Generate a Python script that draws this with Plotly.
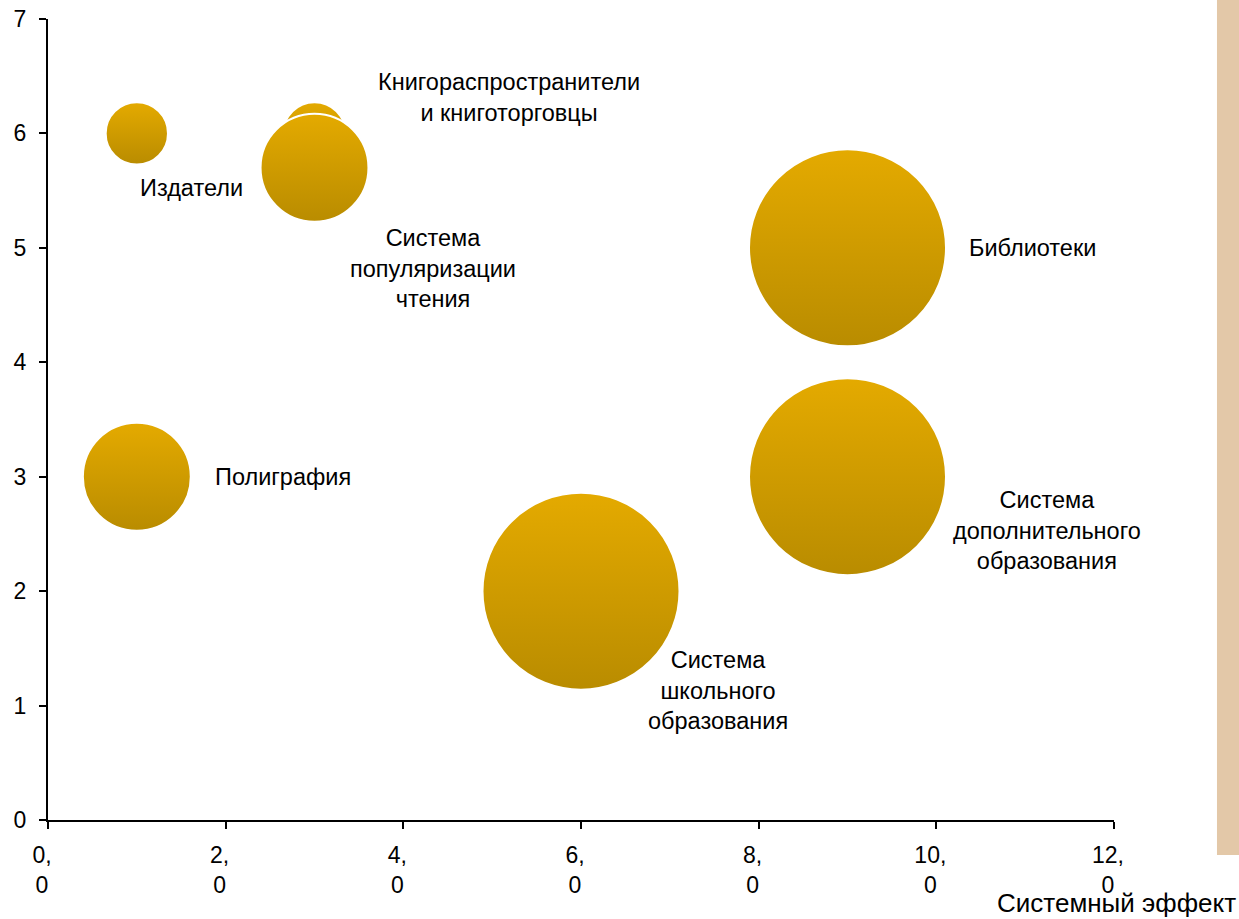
import plotly.graph_objects as go

# Bubble data: reading infrastructure segments
names = [
    "Издатели",
    "Книгораспространители<br>и книготорговцы",
    "Система<br>популяризации<br>чтения",
    "Библиотеки",
    "Полиграфия",
    "Система<br>дополнительного<br>образования",
    "Система<br>школьного<br>образования",
]
x_vals = [1, 3, 3, 9, 1, 9, 6]
y_vals = [6, 6, 5.7, 5, 3, 3, 2]
sizes = [1, 1, 3, 10, 3, 10, 10]

# label anchor positions (data coords) for each bubble caption
label_x = [1.61, 5.19, 4.33, 11.08, 2.65, 11.25, 7.54]
label_y = [5.52, 6.31, 4.82, 5.0, 3.0, 2.53, 1.13]

x_ticks = [0, 2, 4, 6, 8, 10, 12]
x_ticktext = ["0,<br>0", "2,<br>0", "4,<br>0", "6,<br>0", "8,<br>0", "10,<br>0", "12,<br>0"]
y_ticks = [0, 1, 2, 3, 4, 5, 6, 7]

FONT = "Liberation Sans, Arial"
max_diam = 197
fig = go.Figure()
fig.add_trace(go.Scatter(
    x=x_vals,
    y=y_vals,
    mode="markers",
    marker=dict(
        size=sizes,
        sizemode="area",
        sizeref=2.0 * max(sizes) / max_diam ** 2,
        color="#E4AA00",
        gradient=dict(type="vertical", color="#B98C00"),
        line=dict(color="white", width=2),
        opacity=1,
    ),
    hovertext=names,
    showlegend=False,
))

for name, lx, ly in zip(names, label_x, label_y):
    fig.add_annotation(
        x=lx, y=ly, text=name, showarrow=False,
        font=dict(size=23.5, color="black", family=FONT),
        align="center",
    )

# axis title in the bottom right corner
fig.add_annotation(
    xref="paper", yref="paper", x=1.1164, y=-0.1036,
    xanchor="right", yanchor="middle", showarrow=False,
    text="Системный эффект",
    font=dict(size=26, color="black", family=FONT),
)

# tan strip on the right edge
fig.add_shape(
    type="rect", xref="paper", yref="paper",
    x0=1.0966, x1=1.14, y0=-0.0437, y1=1.05,
    fillcolor="#E3C8A8", line=dict(width=0), layer="below",
)

fig.update_xaxes(
    range=[0, 12], tickvals=x_ticks, ticktext=x_ticktext, automargin=False,
    showgrid=False, zeroline=False, showline=True, linecolor="black", linewidth=2,
    ticks="outside", ticklen=7, tickwidth=2, tickcolor="black",
    ticklabelstandoff=6, ticklabelshift=-6, ticklabeloverflow="allow",
    tickfont=dict(size=23, color="black", family=FONT),
)
fig.update_yaxes(
    range=[0, 7], tickvals=y_ticks, automargin=False,
    showgrid=False, zeroline=False, showline=True, linecolor="black", linewidth=2,
    ticks="outside", ticklen=7, tickwidth=2, tickcolor="black",
    ticklabelstandoff=8, ticklabeloverflow="allow",
    tickfont=dict(size=23, color="black", family=FONT),
)

fig.update_layout(
    width=1239, height=919,
    margin=dict(l=48, r=125, t=19, b=99),
    plot_bgcolor="white", paper_bgcolor="white",
    font=dict(family=FONT, color="black"),
)

# drop the default page margin so the figure fills the window exactly
fig.write_html(
    "out.html",
    config={"displayModeBar": False},
    post_script="document.body.style.margin='0';",
)
